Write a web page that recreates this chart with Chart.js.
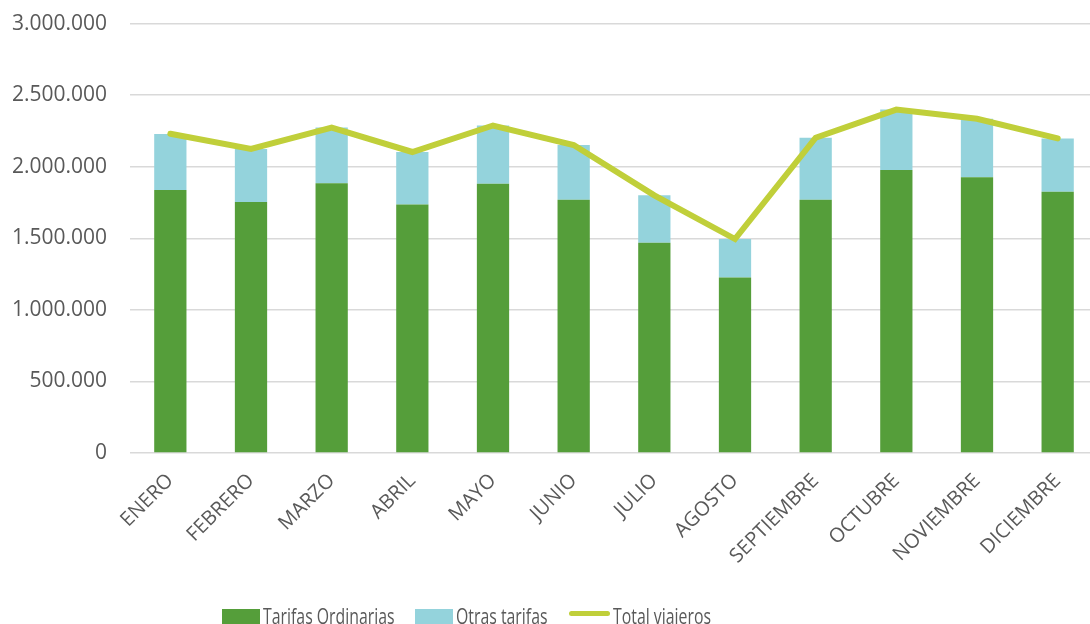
<!DOCTYPE html>
<html>
<head>
<meta charset="utf-8">
<script src="https://cdn.jsdelivr.net/npm/chart.js@4/dist/chart.umd.min.js"></script>
<style>
  html, body { margin: 0; padding: 0; background: #fff; overflow: hidden; }
  #wrap { position: relative; width: 1090px; height: 624px; overflow: hidden; }
  #box { position: absolute; left: 0; top: -12px; width: 1098px; height: 636px; }
  .leg { position: absolute; top: 600px; font-family: 'Open Sans', sans-serif; font-size: 22px; color: #595959; white-space: nowrap; transform: scaleX(0.72); transform-origin: left top; }
  .sw { position: absolute; }
</style>
</head>
<body>
<div id="wrap">
  <div id="box"><canvas id="viajerosChart"></canvas></div>
  <div class="sw" style="left:222px;top:609px;width:38px;height:20px;background:#559E3A"></div>
  <div class="leg" style="left:263px">Tarifas Ordinarias</div>
  <div class="sw" style="left:415px;top:609px;width:38px;height:20px;background:#94D3DC"></div>
  <div class="leg" style="left:456px">Otras tarifas</div>
  <div class="sw" style="left:569px;top:611px;width:41px;height:5px;border-radius:3px;background:#C0CF3A"></div>
  <div class="leg" style="left:613px">Total viajeros</div>
</div>
<script>
var meses = ['ENERO', 'FEBRERO', 'MARZO', 'ABRIL', 'MAYO', 'JUNIO', 'JULIO', 'AGOSTO', 'SEPTIEMBRE', 'OCTUBRE', 'NOVIEMBRE', 'DICIEMBRE'];
var tarifasOrdinarias = [1837000, 1754000, 1885000, 1737000, 1881000, 1770000, 1469000, 1226000, 1770000, 1978000, 1927000, 1825000];
var otrasTarifas = [391000, 370000, 389000, 366000, 407000, 382000, 331000, 269000, 433000, 421000, 408000, 373000];
var totalViajeros = [2230000, 2124000, 2274000, 2103000, 2288000, 2152000, 1800000, 1495000, 2203000, 2399000, 2335000, 2198000];
var yTicks = [0, 500000, 1000000, 1500000, 2000000, 2500000, 3000000];

function puntos(v) {
    return v.toString().replace(/\B(?=(\d{3})+(?!\d))/g, '.');
}

var ctx = document.getElementById('viajerosChart').getContext('2d');
var viajerosChart = new Chart(ctx, {
    data: {
        labels: meses,
        datasets: [{
            type: 'line',
            label: 'Total viajeros',
            data: totalViajeros,
            borderColor: '#C0CF3A',
            backgroundColor: '#C0CF3A',
            borderWidth: 6,
            borderCapStyle: 'round',
            pointRadius: 0,
            tension: 0,
            stack: 'total',
            order: 0
        }, {
            type: 'bar',
            label: 'Tarifas Ordinarias',
            data: tarifasOrdinarias,
            backgroundColor: '#559E3A',
            stack: 'tarifas',
            order: 1
        }, {
            type: 'bar',
            label: 'Otras tarifas',
            data: otrasTarifas,
            backgroundColor: '#94D3DC',
            stack: 'tarifas',
            order: 1
        }]
    },
    options: {
        responsive: true,
        maintainAspectRatio: false,
        animation: false,
        layout: { padding: { top: 10, left: 0, right: 0, bottom: 0 } },
        datasets: {
            bar: { categoryPercentage: 1, barPercentage: 0.4 }
        },
        scales: {
            x: {
                stacked: true,
                grid: { display: false },
                border: { display: false },
                ticks: {
                    minRotation: 45,
                    maxRotation: 45,
                    padding: 8,
                    color: '#595959',
                    font: { family: 'Open Sans', size: 20 }
                },
                afterFit: function(scale) { scale.height = 171; }
            },
            y: {
                stacked: true,
                min: 0,
                max: 3000000,
                afterBuildTicks: function(scale) {
                    scale.ticks = yTicks.map(function(v) { return { value: v }; });
                },
                grid: { color: '#D9D9D9', lineWidth: 1.5, drawTicks: false },
                border: { display: false },
                ticks: {
                    padding: 23,
                    color: '#595959',
                    font: { family: 'Open Sans', size: 21 },
                    callback: function(v) { return puntos(v); }
                },
                afterFit: function(scale) { scale.width = 130; }
            }
        },
        plugins: {
            legend: { display: false },
            tooltip: { enabled: false }
        }
    }
});
</script>
</body>
</html>
